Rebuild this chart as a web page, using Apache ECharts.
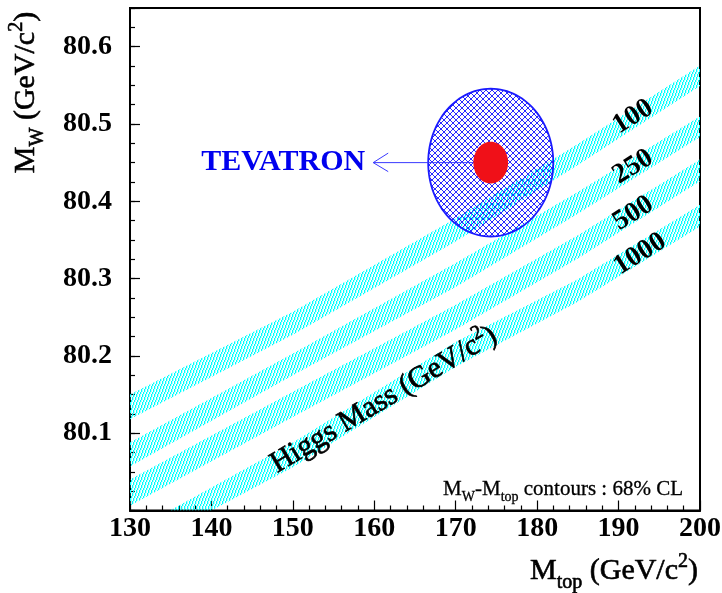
<!DOCTYPE html>
<html>
<head>
<meta charset="utf-8">
<script src="https://cdn.jsdelivr.net/npm/echarts@6/dist/echarts.min.js"></script>
<style>
  html, body { margin: 0; padding: 0; background: #ffffff; }
  #chart { width: 722px; height: 593px; }
</style>
</head>
<body>
<div id="chart"></div>
<script>
// Standard Model prediction bands: MW versus Mtop for several Higgs masses (GeV/c^2)
const higgsMasses = ['100', '250', '500', '1000'];

const band100Upper  = [[130, 80.150], [150, 80.257], [170, 80.378], [185, 80.474], [200, 80.5755]];
const band100Lower  = [[130, 80.118], [150, 80.2275], [170, 80.348], [185, 80.447], [200, 80.549]];
const band250Upper  = [[130, 80.088], [150, 80.203], [170, 80.320], [185, 80.412], [200, 80.510]];
const band250Lower  = [[130, 80.057], [150, 80.175], [170, 80.289], [185, 80.384], [200, 80.483]];
const band500Upper  = [[130, 80.040], [150, 80.1535], [170, 80.266], [185, 80.356], [200, 80.454]];
const band500Lower  = [[130, 80.006], [150, 80.121], [170, 80.234], [185, 80.326], [200, 80.426]];
const band1000Upper = [[134.9, 80.000], [150, 80.088], [170, 80.218], [185, 80.299], [200, 80.3955]];
const band1000Lower = [[140, 80.000], [150, 80.056], [170, 80.186], [185, 80.270], [200, 80.3675]];

// Tevatron measurement: central value and 68% CL contour half-widths
const tevatronCentre = [174.3, 80.45];
const tevatronContourHalfWidths = [7.68, 0.0956];
const tevatronSpotHalfWidths = [2.13, 0.027];

// Axis ranges and tick labels
const mtopRange = [130, 200];
const mwRange = [80.0, 80.65];
const mtopTickLabels = ['130', '140', '150', '160', '170', '180', '190', '200'];
const mwTickLabels = ['80.1', '80.2', '80.3', '80.4', '80.5', '80.6'];

const SERIF = '"Liberation Serif", "DejaVu Serif", serif';

// Fill patterns: single diagonal hatch for the bands, cross hatch for the contour
function makeHatch() {
  const c = document.createElement('canvas');
  c.width = 3; c.height = 8;
  const g = c.getContext('2d');
  for (let r = 0; r < 8; r++) {
    const col = Math.floor((7 - r) * 3 / 8);
    g.fillStyle = '#00ffff';
    g.fillRect(col, r, 1, 1);
    g.fillStyle = 'rgba(0,255,255,0.3)';
    g.fillRect((col + 1) % 3, r, 1, 1);
  }
  return c;
}
function makeCrossHatch() {
  const c = document.createElement('canvas');
  c.width = 6; c.height = 6;
  const g = c.getContext('2d');
  g.fillStyle = '#2a2aff';
  for (let i = 0; i < 6; i++) {
    g.fillRect(i, i, 1, 1);
    g.fillRect(5 - i, i, 1, 1);
  }
  return c;
}
const hatchFill = { image: makeHatch(), repeat: 'repeat' };
const crossFill = { image: makeCrossHatch(), repeat: 'repeat' };

function bandSeries(name, upper, lower) {
  const outline = upper.concat(lower.slice().reverse());
  return {
    name: name,
    type: 'custom',
    coordinateSystem: 'cartesian2d',
    clip: true,
    silent: true,
    z: 2,
    data: outline,
    renderItem(params, api) {
      if (params.dataIndex !== 0) return null;
      return {
        type: 'polygon',
        shape: { points: outline.map(p => api.coord(p)) },
        style: { fill: hatchFill, stroke: null }
      };
    }
  };
}

function ellipsePoints(cx, cy, rx, ry) {
  const pts = [];
  for (let i = 0; i < 120; i++) {
    const a = (i / 120) * Math.PI * 2;
    pts.push([cx + rx * Math.cos(a), cy + ry * Math.sin(a)]);
  }
  return pts;
}

const tevatronSeries = {
  name: 'TEVATRON',
  type: 'custom',
  coordinateSystem: 'cartesian2d',
  silent: true,
  z: 5,
  data: [tevatronCentre],
  renderItem(params, api) {
    const c = api.coord([api.value(0), api.value(1)]);
    const r = api.size(tevatronContourHalfWidths, tevatronCentre);
    const s = api.size(tevatronSpotHalfWidths, tevatronCentre);
    const tipX = c[0] - r[0] - 55;
    const arrowColor = '#3a3aff';
    return {
      type: 'group',
      children: [
        {
          type: 'polygon',
          shape: { points: ellipsePoints(c[0], c[1], r[0], r[1]) },
          style: { fill: crossFill, stroke: '#1a1aff', lineWidth: 1.8 }
        },
        {
          type: 'line',
          shape: { x1: tipX, y1: c[1], x2: c[0], y2: c[1] },
          style: { stroke: arrowColor, lineWidth: 1 }
        },
        {
          type: 'polyline',
          shape: { points: [[tipX + 15, c[1] - 9.5], [tipX, c[1]], [tipX + 15, c[1] + 9]] },
          style: { stroke: arrowColor, lineWidth: 1, fill: null }
        },
        {
          type: 'polygon',
          shape: { points: ellipsePoints(c[0], c[1], s[0], s[1]) },
          style: { fill: '#f01018', stroke: null }
        },
        {
          type: 'text',
          x: tipX - 8,
          y: c[1],
          style: {
            text: 'TEVATRON',
            font: 'bold 30px ' + SERIF,
            fill: '#0000ee',
            align: 'right',
            verticalAlign: 'middle'
          }
        }
      ]
    };
  }
};

// Text with sub- and superscripts, laid out from measured glyph widths.
const measureCtx = document.createElement('canvas').getContext('2d');
function scriptText(parts, F, weight, opts) {
  const kids = [];
  let x = 0;
  parts.forEach(([t, kind]) => {
    const size = kind === 'n' ? F : Math.round(F * 0.68);
    const baseShift = kind === 'sub' ? F * 0.26 : (kind === 'sup' ? -F * 0.42 : 0);
    const font = weight + ' ' + size + 'px ' + SERIF;
    measureCtx.font = font;
    const w = measureCtx.measureText(t).width;
    kids.push({ t, x, baseShift, size, font, w });
    x += w;
  });
  const total = x;
  const shiftX = opts.align === 'center' ? -total / 2 : (opts.align === 'right' ? -total : 0);
  const baseY = opts.capCentre ? F * 0.33 : 0;
  const fill = opts.fill || '#000000';
  return {
    type: 'group',
    x: opts.x,
    y: opts.y,
    z: 100,
    rotation: (opts.rotate || 0) * Math.PI / 180,
    silent: true,
    children: kids.map(k => ({
      type: 'text',
      z: 100,
      x: k.x + shiftX,
      y: baseY + k.baseShift - 0.3375 * k.size,
      style: {
        text: k.t,
        font: k.font,
        fill: fill,
        stroke: opts.heavy ? fill : null,
        lineWidth: opts.heavy ? opts.heavy : 0,
        align: 'left',
        verticalAlign: 'middle'
      }
    }))
  };
}

const annotations = [
  // y axis title
  scriptText([['M', 'n'], ['W', 'sub'], [' (GeV/c', 'n'], ['2', 'sup'], [')', 'n']], 30, 'normal',
    { x: 36.5, y: 92.5, align: 'center', rotate: 90, heavy: 0.6 }),
  // x axis title
  scriptText([['M', 'n'], ['top', 'sub'], [' (GeV/c', 'n'], ['2', 'sup'], [')', 'n']], 30, 'normal',
    { x: 698, y: 581.5, align: 'right', heavy: 0.6 }),
  // contour legend
  scriptText([['M', 'n'], ['W', 'sub'], ['-M', 'n'], ['top', 'sub'], [' contours : 68% CL', 'n']], 21, 'normal',
    { x: 683, y: 496.5, align: 'right', heavy: 0.3 }),
  // band caption
  scriptText([['Higgs Mass (GeV/c', 'n'], ['2', 'sup'], [')', 'n']], 30, 'normal',
    { x: 384, y: 400, align: 'center', rotate: 31, capCentre: true, heavy: 0.7 })
];

// Higgs mass labels at the upper end of each band
const massLabelCentres = [[633, 116.7], [633, 166.7], [633.3, 213.3], [640, 254]];
higgsMasses.forEach((m, i) => {
  annotations.push({
    type: 'text',
    z: 100,
    x: massLabelCentres[i][0],
    y: massLabelCentres[i][1],
    rotation: 32 * Math.PI / 180,
    silent: true,
    style: {
      text: m,
      font: 'bold 28px ' + SERIF,
      fill: '#000000',
      align: 'center',
      verticalAlign: 'middle'
    }
  });
});

const chart = echarts.init(document.getElementById('chart'), null, { renderer: 'canvas' });

const labelFont = { fontFamily: SERIF, fontWeight: 'bold', fontSize: 28, color: '#000000' };

chart.setOption({
  animation: false,
  backgroundColor: '#ffffff',
  grid: {
    left: 130, top: 8, right: 22, bottom: 82.5,
    containLabel: false,
    outerBoundsMode: 'none',
    show: true,
    borderColor: '#000000',
    borderWidth: 2,
    backgroundColor: 'transparent'
  },
  xAxis: {
    type: 'value',
    min: mtopRange[0], max: mtopRange[1], interval: 10,
    axisLine: { show: true, onZero: false, lineStyle: { color: '#000000', width: 2 } },
    axisTick: { show: true, inside: true, length: 10, lineStyle: { color: '#000000', width: 1.2 } },
    minorTick: { show: true, splitNumber: 5, length: 5, lineStyle: { color: '#000000', width: 1.2 } },
    splitLine: { show: false },
    minorSplitLine: { show: false },
    axisLabel: Object.assign({
      margin: 4,
      formatter: v => {
        const s = String(Math.round(v));
        return mtopTickLabels.includes(s) && Math.abs(v - Math.round(v)) < 1e-6 ? s : '';
      }
    }, labelFont)
  },
  yAxis: [
    {
      type: 'value',
      min: mwRange[0], max: mwRange[1], interval: 0.1,
      axisLine: { show: true, onZero: false, lineStyle: { color: '#000000', width: 2 } },
      axisTick: { show: true, inside: true, length: 10, lineStyle: { color: '#000000', width: 1.2 } },
      splitLine: { show: false },
      axisLabel: Object.assign({
        margin: 18,
        formatter: v => {
          const s = v.toFixed(1);
          return mwTickLabels.includes(s) && Math.abs(v - parseFloat(s)) < 1e-6 ? s : '';
        }
      }, labelFont)
    },
    {
      // minor ticks every 0.025 GeV/c^2
      type: 'value',
      position: 'left',
      offset: 0,
      min: mwRange[0], max: mwRange[1], interval: 0.025,
      axisLine: { show: false },
      axisTick: { show: true, inside: true, length: 5, lineStyle: { color: '#000000', width: 1.2 } },
      splitLine: { show: false },
      axisLabel: { show: false }
    }
  ],
  series: [
    bandSeries(higgsMasses[0], band100Upper, band100Lower),
    bandSeries(higgsMasses[1], band250Upper, band250Lower),
    bandSeries(higgsMasses[2], band500Upper, band500Lower),
    bandSeries(higgsMasses[3], band1000Upper, band1000Lower),
    tevatronSeries
  ],
  graphic: { elements: annotations }
});
</script>
</body>
</html>
